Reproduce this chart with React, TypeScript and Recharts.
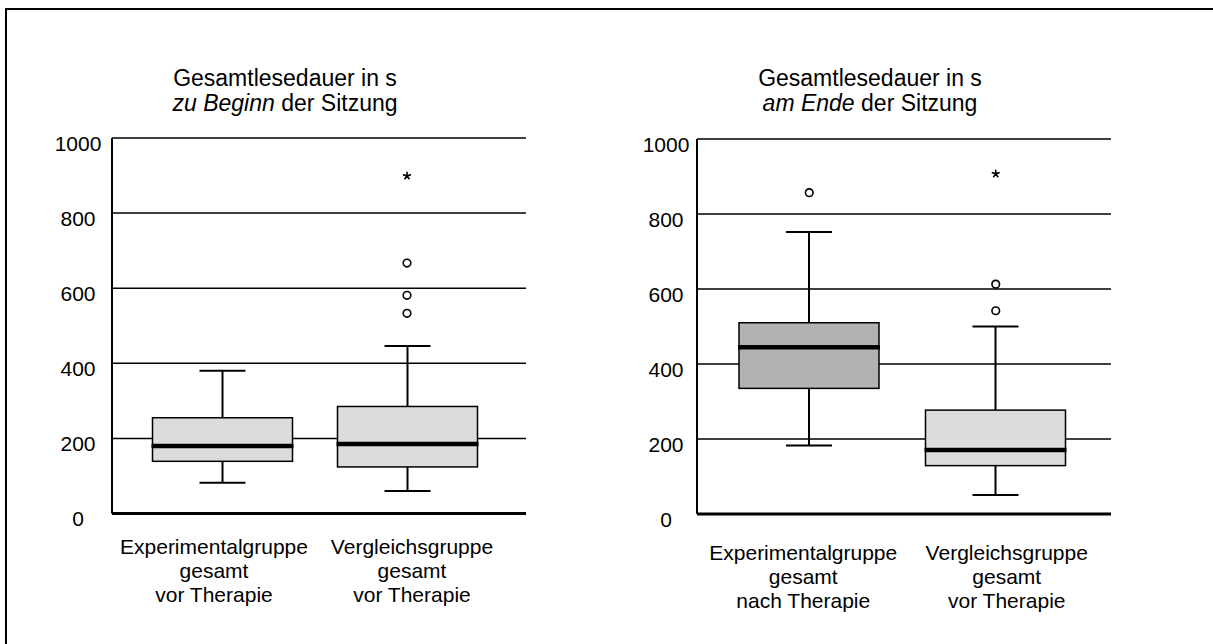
import React from 'react';
import { ComposedChart, Bar, Line, XAxis, YAxis, CartesianGrid, Cell } from 'recharts';

// groups (same two groups in both panels)
const groupNames = ['Experimentalgruppe', 'Vergleichsgruppe'];
const groupSub = ['gesamt', 'gesamt'];
const beginPhase = ['vor Therapie', 'vor Therapie'];
const endPhase = ['nach Therapie', 'vor Therapie'];

const yTicks = [0, 200, 400, 600, 800, 1000];

// Gesamtlesedauer zu Beginn der Sitzung (s)
const beginMin = [82, 60];
const beginQ1 = [139, 124];
const beginMedian = [180, 185];
const beginQ3 = [255, 285];
const beginMax = [380, 446];
const beginOutlierA = [null, 533];
const beginOutlierB = [null, 581];
const beginOutlierC = [null, 667];
const beginExtreme = [null, 899];

// Gesamtlesedauer am Ende der Sitzung (s)
const endMin = [183, 51];
const endQ1 = [335, 129];
const endMedian = [445, 171];
const endQ3 = [510, 277];
const endMax = [752, 500];
const endOutlierA = [857, 542];
const endOutlierB = [null, 613];
const endOutlierC = [null, null];
const endExtreme = [null, 907];

const FONT = '"Liberation Sans", Arial, sans-serif';

function buildRows(min, q1, med, q3, max, oA, oB, oC, ext) {
  return groupNames.map((name, i) => ({
    name,
    min: min[i],
    q1: q1[i],
    median: med[i],
    q3: q3[i],
    max: max[i],
    oA: oA[i],
    oB: oB[i],
    oC: oC[i],
    ext: ext[i],
  }));
}

const beginRows = buildRows(beginMin, beginQ1, beginMedian, beginQ3, beginMax, beginOutlierA, beginOutlierB, beginOutlierC, beginExtreme);
const endRows = buildRows(endMin, endQ1, endMedian, endQ3, endMax, endOutlierA, endOutlierB, endOutlierC, endExtreme);

function BoxShape(props: any) {
  const { x, y, width, height, payload, fill } = props;
  if (height == null || !payload) return <g />;
  const top = Math.min(y, y + height);
  const h = Math.abs(height);
  const k = h / (payload.max - payload.min);
  const toY = (v: number) => top + (payload.max - v) * k;
  const cx = x + width / 2;
  const cap = 23;
  return (
    <g>
      <line x1={cx} x2={cx} y1={toY(payload.max)} y2={toY(payload.min)} stroke="#000" strokeWidth={2} />
      <line x1={cx - cap} x2={cx + cap} y1={toY(payload.max)} y2={toY(payload.max)} stroke="#000" strokeWidth={2} />
      <line x1={cx - cap} x2={cx + cap} y1={toY(payload.min)} y2={toY(payload.min)} stroke="#000" strokeWidth={2} />
      <rect
        x={x}
        y={toY(payload.q3)}
        width={width}
        height={toY(payload.q1) - toY(payload.q3)}
        fill={fill}
        stroke="#000"
        strokeWidth={1.5}
      />
      <line x1={x - 1} x2={x + width + 1} y1={toY(payload.median)} y2={toY(payload.median)} stroke="#000" strokeWidth={4.5} />
    </g>
  );
}

const circleDot = (p: any) => {
  if (p.value == null || p.cy == null || isNaN(p.cy)) return <g key={`c${p.dataKey}${p.index}`} />;
  return <circle key={`c${p.dataKey}${p.index}`} cx={p.cx} cy={p.cy} r={3.8} fill="#fff" stroke="#000" strokeWidth={1.6} />;
};

const starDot = (p: any) => {
  if (p.value == null || p.cy == null || isNaN(p.cy)) return <g key={`s${p.index}`} />;
  const r = 4.2;
  const arms = [0, 72, 144, 216, 288].map((a) => {
    const rad = ((a - 90) * Math.PI) / 180;
    return `M${p.cx},${p.cy}L${p.cx + r * Math.cos(rad)},${p.cy + r * Math.sin(rad)}`;
  });
  return <path key={`s${p.index}`} d={arms.join('')} stroke="#000" strokeWidth={1.6} fill="none" />;
};

function makeYTick(labelShift: number) {
  return (p: any) => (
    <text x={p.x - labelShift} y={p.y + 12.5} textAnchor="middle" fontSize={21} fontFamily={FONT} fill="#000">
      {p.payload.value}
    </text>
  );
}

function makeXTick(phase: string[], offsets: number[], firstDy: number, lineH: number) {
  return (p: any) => {
    const i = p.index;
    const cx = p.x + offsets[i];
    const lines = [groupNames[i], groupSub[i], phase[i]];
    return (
      <text x={cx} y={p.y} textAnchor="middle" fontSize={21} fontFamily={FONT} fill="#000">
        {lines.map((l, j) => (
          <tspan key={j} x={cx} dy={j === 0 ? firstDy : lineH}>
            {l}
          </tspan>
        ))}
      </text>
    );
  };
}

function BoxPanel({ rows, fills, phase, padding, offsets, firstDy, lineH, labelShift, top, bottom }: any) {
  return (
    <ComposedChart
      width={600}
      height={644}
      data={rows}
      margin={{ top, right: 74, bottom, left: 0 }}
    >
      <CartesianGrid horizontal vertical={false} stroke="#000" strokeWidth={1.5} />
      <XAxis
        dataKey="name"
        type="category"
        padding={padding}
        height={100}
        axisLine={{ stroke: '#000', strokeWidth: 3 }}
        tickLine={false}
        tickSize={0}
        tick={makeXTick(phase, offsets, firstDy, lineH)}
        interval={0}
      />
      <YAxis
        type="number"
        domain={[0, 1000]}
        ticks={yTicks}
        width={112}
        axisLine={{ stroke: '#000', strokeWidth: 2 }}
        tickLine={false}
        tickSize={0}
        tick={makeYTick(labelShift)}
        interval={0}
      />
      <Bar dataKey={(d: any) => [d.min, d.max]} barSize={140} isAnimationActive={false} shape={<BoxShape />}>
        {rows.map((r: any, i: number) => (
          <Cell key={r.name} fill={fills[i]} />
        ))}
      </Bar>
      <Line dataKey="oA" stroke="none" dot={circleDot} activeDot={false} isAnimationActive={false} legendType="none" />
      <Line dataKey="oB" stroke="none" dot={circleDot} activeDot={false} isAnimationActive={false} legendType="none" />
      <Line dataKey="oC" stroke="none" dot={circleDot} activeDot={false} isAnimationActive={false} legendType="none" />
      <Line dataKey="ext" stroke="none" dot={starDot} activeDot={false} isAnimationActive={false} legendType="none" />
    </ComposedChart>
  );
}

const titleStyle: React.CSSProperties = {
  position: 'absolute',
  width: 400,
  textAlign: 'center',
  fontFamily: FONT,
  fontSize: 23,
  lineHeight: '25px',
  color: '#000',
};

export default function App() {
  return (
    <div style={{ position: 'absolute', left: 0, top: 0, width: 1213, height: 644, background: '#fff', overflow: 'hidden' }}>
      <div
        style={{
          position: 'absolute',
          left: 5,
          top: 8,
          width: 1210,
          height: 640,
          borderTop: '2px solid #000',
          borderLeft: '2px solid #000',
        }}
      />
      <div style={{ ...titleStyle, left: 285 - 200, top: 66 }}>
        Gesamtlesedauer in s
        <br />
        <i>zu Beginn</i> der Sitzung
      </div>
      <div style={{ ...titleStyle, left: 870 - 200, top: 66 }}>
        Gesamtlesedauer in s
        <br />
        <i>am Ende</i> der Sitzung
      </div>
      <div style={{ position: 'absolute', left: 0, top: 0 }}>
        <BoxPanel
          rows={beginRows}
          fills={['#dcdcdc', '#dcdcdc']}
          phase={beginPhase}
          padding={{ left: 17.5, right: 26.5 }}
          offsets={[-8, 5]}
          firstDy={38}
          lineH={24}
          labelShift={32}
          top={138}
          bottom={30.5}
        />
      </div>
      <div style={{ position: 'absolute', left: 585, top: 0 }}>
        <BoxPanel
          rows={endRows}
          fills={['#b2b2b2', '#dcdcdc']}
          phase={endPhase}
          padding={{ left: 19, right: 22 }}
          offsets={[-6, 11]}
          firstDy={44}
          lineH={24}
          labelShift={29}
          top={139}
          bottom={30}
        />
      </div>
    </div>
  );
}
